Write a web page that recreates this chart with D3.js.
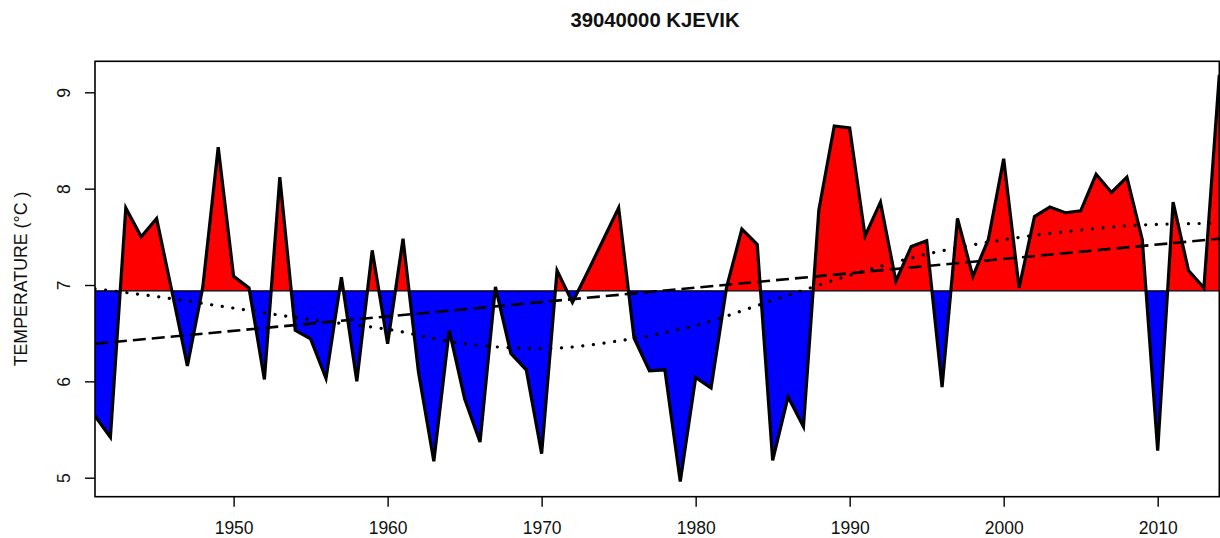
<!DOCTYPE html>
<html>
<head>
<meta charset="utf-8">
<script src="https://cdn.jsdelivr.net/npm/d3@7"></script>
<style>
  html, body { margin: 0; padding: 0; background: #fff; }
  svg { display: block; font-family: "Liberation Sans", Arial, Helvetica, sans-serif; }
</style>
</head>
<body>
<svg id="chart" width="1220" height="538"></svg>
<script>
// Annual mean temperature, station 39040000 KJEVIK
const years = d3.range(1941, 2015);
const temps = [
  5.64, 5.42, 7.80, 7.50, 7.69, 6.93, 6.16, 6.98, 8.43, 7.09,
  6.97, 6.02, 8.12, 6.53, 6.44, 6.03, 7.08, 6.00, 7.36, 6.39,
  7.48, 6.10, 5.17, 6.53, 5.82, 5.37, 6.98, 6.29, 6.12, 5.25,
  7.15, 6.82, 7.14, 7.47, 7.80, 6.45, 6.11, 6.12, 4.96, 6.04,
  5.93, 6.97, 7.58, 7.42, 5.18, 5.84, 5.53, 7.78, 8.65, 8.63,
  7.51, 7.86, 7.04, 7.40, 7.46, 5.94, 7.69, 7.09, 7.47, 8.31,
  6.97, 7.71, 7.81, 7.75, 7.77, 8.15, 7.96, 8.12, 7.47, 5.28,
  7.86, 7.15, 6.97, 9.18
];

// Long-term mean used as the reference level
const meanTemp = 6.94;

// Linear trend (end points)
const trendYears = [1941, 2014];
const trendValues = [6.39, 7.48];

// Smoothed curve
const smoothYears  = [1941, 1945, 1950, 1955, 1960, 1965, 1970, 1975, 1980, 1985, 1990, 1995, 2000, 2005, 2010, 2014];
const smoothValues = [6.96, 6.88, 6.76, 6.64, 6.54, 6.39, 6.34, 6.42, 6.58, 6.84, 7.10, 7.32, 7.47, 7.57, 7.63, 7.64];

const xTicks = [1950, 1960, 1970, 1980, 1990, 2000, 2010];
const yTicks = [5, 6, 7, 8, 9];

const title = "39040000 KJEVIK";
const yTitle = "TEMPERATURE (\u00B0C )";

const box = { left: 95, right: 1219.3, top: 61.3, bottom: 496.7 };

const svg = d3.select("#chart");

const x = d3.scaleLinear().domain(d3.extent(years)).range([box.left, box.right]);
const y = d3.scaleLinear().domain([5, 9]).range([477.7, 92.3]);

const series = years.map((yr, i) => ({ year: yr, t: temps[i] }));
const yMean = y(meanTemp);

const defs = svg.append("defs");
defs.append("clipPath").attr("id", "plotClip")
  .append("rect").attr("x", box.left).attr("y", box.top)
  .attr("width", box.right - box.left).attr("height", box.bottom - box.top);
defs.append("clipPath").attr("id", "aboveClip")
  .append("rect").attr("x", box.left).attr("y", box.top)
  .attr("width", box.right - box.left).attr("height", yMean - box.top);
defs.append("clipPath").attr("id", "belowClip")
  .append("rect").attr("x", box.left).attr("y", yMean)
  .attr("width", box.right - box.left).attr("height", box.bottom - yMean);

const plot = svg.append("g").attr("clip-path", "url(#plotClip)");

const area = d3.area()
  .x(d => x(d.year))
  .y0(yMean)
  .y1(d => y(d.t));

// Warm anomalies (above the mean) in red, cold anomalies in blue
plot.append("g").attr("clip-path", "url(#aboveClip)")
  .append("path").datum(series).attr("d", area).attr("fill", "#ff0000");
plot.append("g").attr("clip-path", "url(#belowClip)")
  .append("path").datum(series).attr("d", area).attr("fill", "#0000ff");

// Reference level
plot.append("line")
  .attr("x1", box.left).attr("x2", box.right)
  .attr("y1", yMean).attr("y2", yMean)
  .attr("stroke", "#000").attr("stroke-width", 1.2);

// Linear trend
const trend = trendYears.map((yr, i) => ({ year: yr, t: trendValues[i] }));
plot.append("path").datum(trend)
  .attr("d", d3.line().x(d => x(d.year)).y(d => y(d.t)))
  .attr("fill", "none").attr("stroke", "#000")
  .attr("stroke-width", 2.6).attr("stroke-dasharray", "13,6");

// Smoothed curve
const smooth = smoothYears.map((yr, i) => ({ year: yr, t: smoothValues[i] }));
plot.append("path").datum(smooth)
  .attr("d", d3.line().curve(d3.curveMonotoneX).x(d => x(d.year)).y(d => y(d.t)))
  .attr("fill", "none").attr("stroke", "#000")
  .attr("stroke-width", 3.2).attr("stroke-linecap", "round")
  .attr("stroke-dasharray", "0.1,10.6");

// Annual series
plot.append("path").datum(series)
  .attr("d", d3.line().x(d => x(d.year)).y(d => y(d.t)))
  .attr("fill", "none").attr("stroke", "#000")
  .attr("stroke-width", 3.2).attr("stroke-linejoin", "miter");

// Plot frame
svg.append("rect")
  .attr("x", box.left).attr("y", box.top)
  .attr("width", box.right - box.left).attr("height", box.bottom - box.top)
  .attr("fill", "none").attr("stroke", "#000").attr("stroke-width", 1.6);

// X axis
const xAxis = svg.append("g").attr("transform", `translate(0,${box.bottom})`)
  .call(d3.axisBottom(x).tickValues(xTicks).tickFormat(d3.format("d")).tickSize(10).tickPadding(0));
xAxis.select(".domain").remove();
xAxis.selectAll(".tick line").attr("stroke", "#000").attr("stroke-width", 1.4);
xAxis.selectAll(".tick text")
  .attr("y", 37.6).attr("dy", null)
  .attr("font-size", 17.5).attr("fill", "#111")
  .attr("font-family", "'Liberation Sans', Arial, sans-serif");

// Y axis (labels rotated, reading upward)
const yAxis = svg.append("g").attr("transform", `translate(${box.left},0)`)
  .call(d3.axisLeft(y).tickValues(yTicks).tickFormat(d3.format("d")).tickSize(10));
yAxis.select(".domain").remove();
yAxis.selectAll(".tick line").attr("stroke", "#000").attr("stroke-width", 1.4);
yAxis.selectAll(".tick text")
  .attr("x", null).attr("dy", null)
  .attr("transform", "translate(-25,0) rotate(-90)")
  .attr("text-anchor", "middle")
  .attr("font-size", 17.5).attr("fill", "#111")
  .attr("font-family", "'Liberation Sans', Arial, sans-serif");

// Titles
svg.append("text")
  .attr("x", 655).attr("y", 26.5)
  .attr("text-anchor", "middle")
  .attr("font-size", 20.3).attr("font-weight", "bold").attr("fill", "#111")
  .text(title);

svg.append("text")
  .attr("transform", `translate(26.5,${(box.top + box.bottom) / 2}) rotate(-90)`)
  .attr("text-anchor", "middle")
  .attr("font-size", 17.8).attr("fill", "#111")
  .text(yTitle);
</script>
</body>
</html>
